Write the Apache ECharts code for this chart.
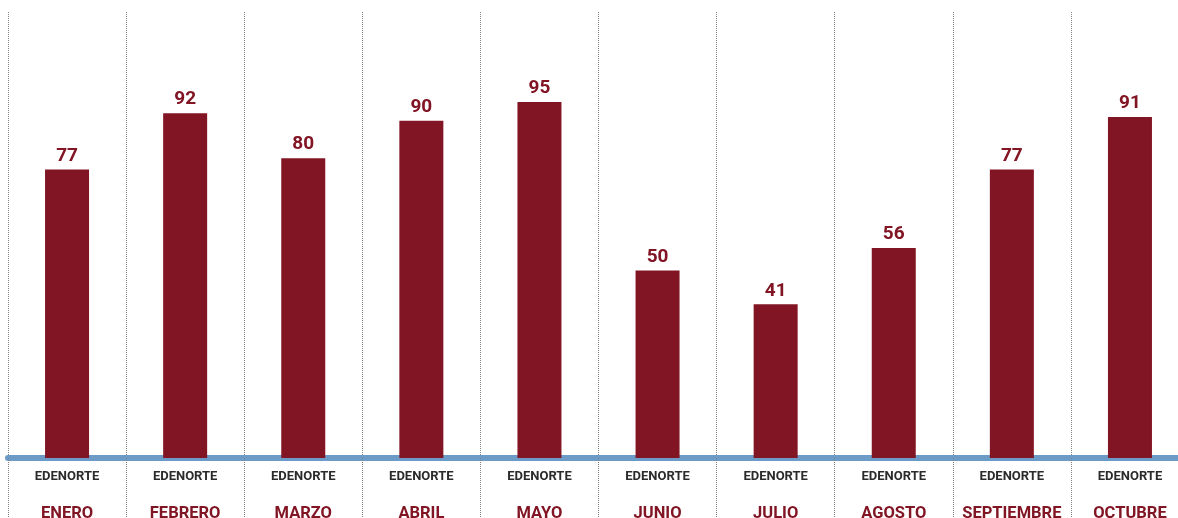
<!DOCTYPE html>
<html>
<head>
<meta charset="utf-8">
<script src="https://cdn.jsdelivr.net/npm/echarts@6/dist/echarts.min.js"></script>
<style>html,body{margin:0;padding:0;background:#fff}#c{width:1178px;height:518px}</style>
</head>
<body>
<div id="c"></div>
<script>
var months = ['ENERO','FEBRERO','MARZO','ABRIL','MAYO','JUNIO','JULIO','AGOSTO','SEPTIEMBRE','OCTUBRE'];
var company = 'EDENORTE';
var values = [77, 92, 80, 90, 95, 50, 41, 56, 77, 91];

var chart = echarts.init(document.getElementById('c'));
chart.setOption({
  animation: false,
  grid: {left: 8, width: 1181, top: 12, height: 446, containLabel: false, outerBoundsMode: 'none'},
  xAxis: {
    type: 'category',
    data: months,
    axisLine: {show: true, lineStyle: {color: '#6b9bc6', width: 6}},
    axisTick: {show: true, length: 61, lineStyle: {color: '#808080', width: 1, type: [1, 1]}},
    splitLine: {show: true, lineStyle: {color: '#808080', width: 1, type: [1, 1]}},
    axisLabel: {
      margin: 9,
      interval: 0,
      formatter: function (v) { return '{a|' + company + '}\n{b|' + v + '}'; },
      rich: {
        a: {fontFamily: 'Roboto', fontWeight: 'bold', fontSize: 13, color: '#2b2b2b', lineHeight: 20},
        b: {fontFamily: 'Roboto', fontWeight: 'bold', fontSize: 16.5, color: '#821524', lineHeight: 54}
      }
    }
  },
  yAxis: {type: 'value', min: 0, max: 119, show: false, splitLine: {show: false}},
  series: [{
    type: 'bar',
    data: values,
    barWidth: 44,
    itemStyle: {color: '#821523'},
    label: {
      show: true, position: 'top', distance: 4,
      fontFamily: 'Roboto', fontWeight: 'bold', fontSize: 19, color: '#821524'
    }
  }]
});
</script>
</body>
</html>
